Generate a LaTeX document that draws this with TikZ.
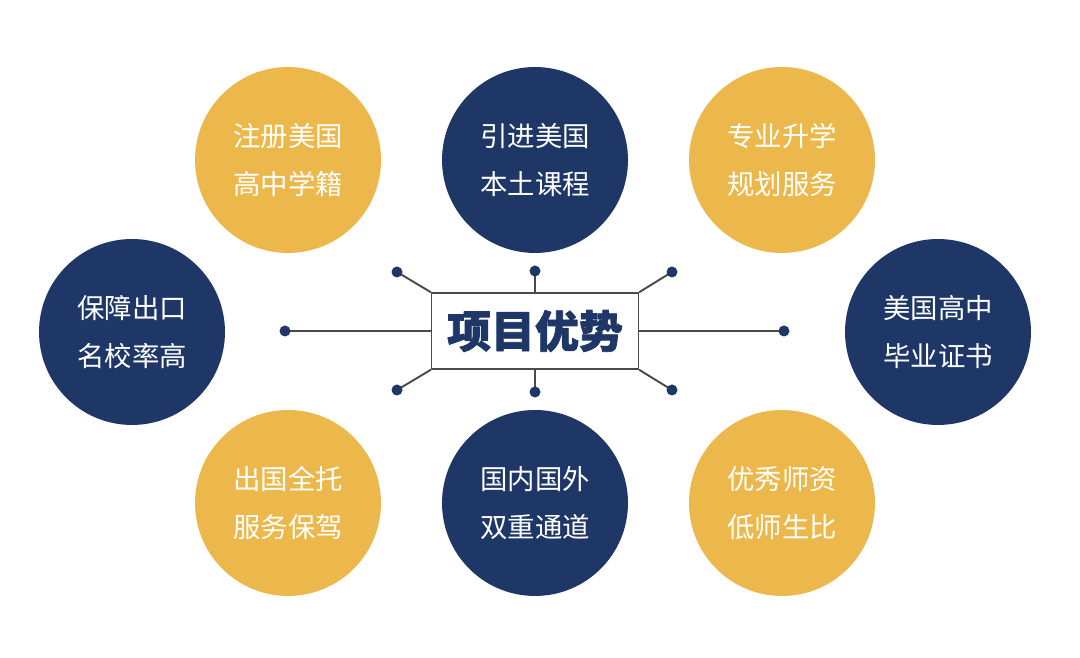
\documentclass[tikz,border=0pt]{standalone}
\usepackage{fontspec}
\newfontfamily\cjk{Noto Sans CJK SC}
\newfontfamily\cjkhub{Noto Sans CJK SC}[BoldFeatures={FakeBold=1.6}]
\definecolor{navy}{HTML}{1E3767}
\definecolor{gold}{HTML}{ECB84B}
\definecolor{wire}{HTML}{4A4A4A}
\tikzset{
	ball/.style={circle,minimum size=3.72cm,inner sep=0pt,text=white,align=center,
		font=\cjk\fontsize{15.6}{27.3}\selectfont},
	goldball/.style={ball,fill=gold},
	navyball/.style={ball,fill=navy},
	hub/.style={draw=wire,line width=1.1pt,fill=white,minimum width=4.14cm,minimum height=1.52cm,
		text=navy,font=\cjkhub\bfseries\fontsize{25}{25}\selectfont},
	wire/.style={draw=wire,line width=1.1pt}
}
\begin{document}
\begin{tikzpicture}[x=0.02cm,y=-0.02cm,line join=round,line cap=round]
	\useasboundingbox (0,0) rectangle (1080,658);
	% circles
	\node[goldball] (zc) at (288,160) {注册美国\\高中学籍};
	\node[navyball] (yj) at (535,160) {引进美国\\本土课程};
	\node[goldball] (zy) at (782,160) {专业升学\\规划服务};
	\node[navyball] (bz) at (132,332) {保障出口\\名校率高};
	\node[navyball] (mg) at (938,332) {美国高中\\毕业证书};
	\node[goldball] (cg) at (288,503) {出国全托\\服务保驾};
	\node[navyball] (gn) at (535,503) {国内国外\\双重通道};
	\node[goldball] (yx) at (782,503) {优秀师资\\低师生比};
	% centre
	\node[hub] (xm) at (535,331) {项目优势};
	\coordinate (A) at (397,272);
	\coordinate (B) at (535,271);
	\coordinate (C) at (672,272);
	\coordinate (D) at (285,331);
	\coordinate (E) at (784,331);
	\coordinate (F) at (397,390);
	\coordinate (G) at (535,392);
	\coordinate (H) at (672,390);
	\draw[wire] (xm.north west)--(A) (xm.north)--(B) (xm.north east)--(C)
		(xm.west)--(D) (xm.east)--(E)
		(xm.south west)--(F) (xm.south)--(G) (xm.south east)--(H);
	\foreach \x in
	{A,B,C,D,E,F,G,H}
	\fill[navy](\x) circle (5.5);
\end{tikzpicture}
\end{document}
